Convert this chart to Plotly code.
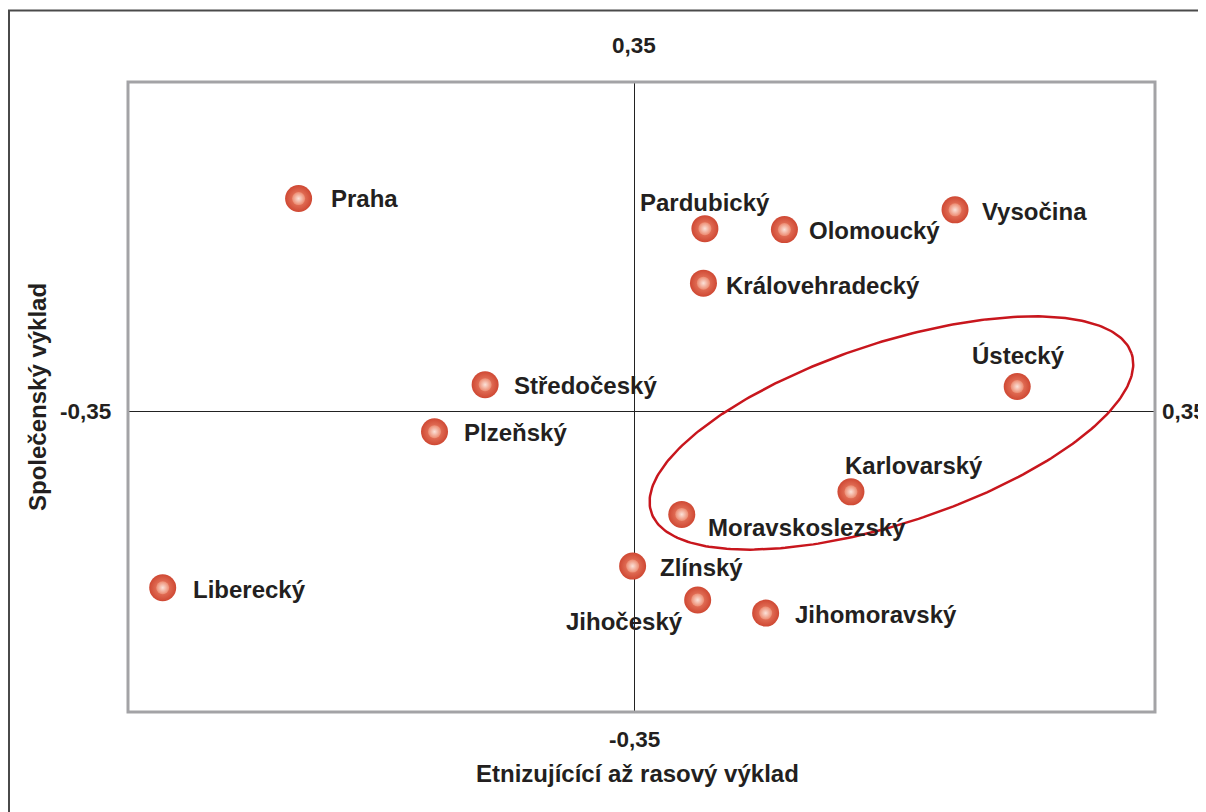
import numpy as np
import plotly.graph_objects as go

# ---- data ----
regions = ["Praha", "Pardubický", "Olomoucký", "Vysočina", "Královehradecký",
           "Ústecký", "Středočeský", "Plzeňský", "Karlovarský", "Moravskoslezský",
           "Zlínský", "Liberecký", "Jihočeský", "Jihomoravský"]
x_vals = [-0.232, 0.049, 0.104, 0.222, 0.048, 0.265, -0.103, -0.138, 0.150, 0.033,
          -0.001, -0.326, 0.044, 0.091]
y_vals = [0.226, 0.194, 0.193, 0.214, 0.136, 0.026, 0.028, -0.022, -0.086, -0.110,
          -0.165, -0.188, -0.201, -0.215]
x_title = "Etnizujícící až rasový výklad"
y_title = "Společenský výklad"
tick_min = "-0,35"
tick_max = "0,35"

# label placement (xanchor, xshift px, yshift px)
label_pos = {
    "Praha": ("left", 30, 0),
    "Pardubický": ("center", 0, 26),
    "Olomoucký": ("left", 23, -1),
    "Vysočina": ("left", 25, -2),
    "Královehradecký": ("left", 21, -2),
    "Ústecký": ("center", 1, 31),
    "Středočeský": ("left", 27, -1),
    "Plzeňský": ("left", 27, -1),
    "Karlovarský": ("left", -8, 26),
    "Moravskoslezský": ("left", 24, -13),
    "Zlínský": ("left", 25, -1),
    "Liberecký": ("left", 28, -2),
    "Jihočeský": ("right", -13, -22),
    "Jihomoravský": ("left", 27, -1),
}

# highlighted group ellipse (data units): center, major and minor half-axis vectors
ell_center = (0.178, -0.0234)
ell_major = (0.1661, 0.0845)
ell_minor = (-0.0196, 0.0909)

XR = [-0.35, 0.3603]
YR = [-0.3202, 0.35]

TXT = "#231f20"
FONT = "Liberation Sans, Arial, sans-serif"

fig = go.Figure()

t = np.linspace(0, 2 * np.pi, 300)
ex = ell_center[0] + ell_major[0] * np.cos(t) + ell_minor[0] * np.sin(t)
ey = ell_center[1] + ell_major[1] * np.cos(t) + ell_minor[1] * np.sin(t)
fig.add_trace(go.Scatter(x=ex, y=ey, mode="lines",
                         line=dict(color="#c8161d", width=2.5),
                         hoverinfo="skip", showlegend=False))

fig.add_trace(go.Scatter(
    x=x_vals, y=y_vals, mode="markers", text=regions, hoverinfo="text",
    marker=dict(size=27, color="#cf4833",
                gradient=dict(type="radial", color="#ef8c72"),
                line=dict(width=0)),
    showlegend=False))
fig.add_trace(go.Scatter(
    x=x_vals, y=y_vals, mode="markers", hoverinfo="skip",
    marker=dict(size=13, color="#ec8a70",
                gradient=dict(type="radial", color="#fbe2d9"),
                line=dict(width=0)),
    showlegend=False))

lab_font = dict(family=FONT, size=24, color=TXT, weight="bold")
annotations = []
for name, xv, yv in zip(regions, x_vals, y_vals):
    anc, xs, ys = label_pos[name]
    annotations.append(dict(x=xv, y=yv, xref="x", yref="y", text=name,
                            showarrow=False, xanchor=anc, yanchor="middle",
                            xshift=xs, yshift=ys, font=lab_font))

tick_font = dict(family=FONT, size=22.5, color=TXT, weight="bold")
annotations += [
    dict(x=0, y=1, xref="x", yref="paper", text=tick_max, showarrow=False,
         xanchor="center", yanchor="middle", yshift=37, font=tick_font),
    dict(x=0, y=0, xref="x", yref="paper", text=tick_min, showarrow=False,
         xanchor="center", yanchor="middle", yshift=-27, font=tick_font),
    dict(x=0, y=0, xref="paper", yref="y", text=tick_min, showarrow=False,
         xanchor="right", yanchor="middle", xshift=-15, font=tick_font),
    dict(x=1, y=0, xref="paper", yref="y", text=tick_max, showarrow=False,
         xanchor="left", yanchor="middle", xshift=5, font=tick_font),
    dict(x=0.5, y=0, xref="paper", yref="paper", text=x_title, showarrow=False,
         xanchor="center", yanchor="middle", xshift=-4, yshift=-61, font=lab_font),
    dict(x=0, y=0.5, xref="paper", yref="paper", text=y_title, showarrow=False,
         textangle=-90, xanchor="center", yanchor="middle", xshift=-91, yshift=0,
         font=lab_font),
]

shapes = [
    # plot frame
    dict(type="rect", xref="paper", yref="paper", x0=0, y0=0, x1=1, y1=1,
         line=dict(color="#a3a3a6", width=3), layer="above"),
    # outer frame (top and left edges)
    dict(type="line", xref="paper", yref="paper",
         x0=(8 - 128) / 1027, x1=(1215 - 128) / 1027,
         y0=(712 - 10.5) / 630, y1=(712 - 10.5) / 630,
         line=dict(color="#4a4a4a", width=2)),
    dict(type="line", xref="paper", yref="paper",
         x0=(9 - 128) / 1027, x1=(9 - 128) / 1027,
         y0=(712 - 10) / 630, y1=(712 - 815) / 630,
         line=dict(color="#4a4a4a", width=2)),
]

axis_common = dict(showgrid=False, showticklabels=False, ticks="",
                   zeroline=True, zerolinecolor="#222222", zerolinewidth=1,
                   showline=False, fixedrange=True)

fig.update_layout(
    width=1206, height=812,
    margin=dict(l=120, r=59, t=74, b=108),
    paper_bgcolor="white", plot_bgcolor="white",
    xaxis=dict(range=XR, **axis_common),
    yaxis=dict(range=YR, **axis_common),
    annotations=annotations, shapes=shapes,
    showlegend=False,
)

fig.write_html("out.html")
